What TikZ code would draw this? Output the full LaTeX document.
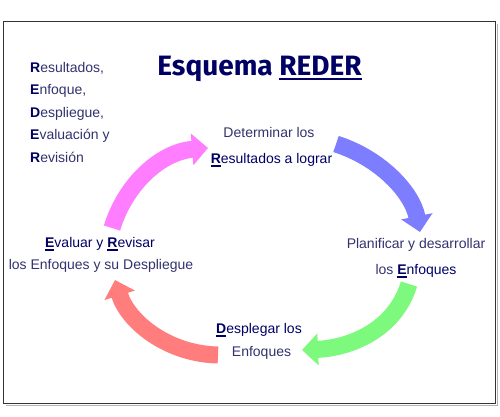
\documentclass[tikz,border=0pt]{standalone}
\usepackage{fontspec}
\setmainfont{Liberation Sans}
\newfontfamily\titlefont{Fira Sans}
\usetikzlibrary{arrows.meta}
\definecolor{txtc}{RGB}{50,50,110}
\definecolor{navyc}{RGB}{0,0,100}
\definecolor{ablue}{RGB}{125,125,255}
\definecolor{agreen}{RGB}{125,250,125}
\definecolor{ared}{RGB}{255,125,125}
\definecolor{amag}{RGB}{255,125,255}
\newcommand\ulb[1]{\setbox0\hbox{\color{navyc}\bfseries #1}\rlap{\color{navyc}\rule[-3.5pt]{\wd0}{1.6pt}}\box0}
\newcommand\blt[1]{{\color{navyc}\bfseries #1}}
\newcommand\ult[1]{\setbox0\hbox{#1}\rlap{\rule[-5pt]{\wd0}{2pt}}\box0}
\begin{document}
\begin{tikzpicture}[x=1pt,y=-1pt,
  lbl/.style={anchor=base, text=txtc, font=\fontsize{14}{16}\selectfont, inner sep=0pt},
  lbll/.style={lbl, anchor=base west},
  bigarrow/.style={line width=17pt, -{Triangle[width=31pt,length=16pt]}}]
\useasboundingbox (0,0) rectangle (500,416);
% frame
\draw[gray!60, line width=1.2pt] (6,405.5) -- (497.5,405.5) -- (497.5,24);
\draw[black!80, line width=0.9pt] (3,21) rectangle (495.5,403.5);
% title
\node[anchor=base, inner sep=0pt, text=navyc, font=\titlefont\bfseries\fontsize{28}{30}\selectfont] (title) at (259.5,75) {Esquema \ult{REDER}};
% left list
\node[lbll] (l1) at (30,72) {\blt{R}esultados,};
\node[lbll] (l2) at (30,94.5) {\blt{E}nfoque,};
\node[lbll] (l3) at (30,117) {\blt{D}espliegue,};
\node[lbll] (l4) at (30,139.5) {\blt{E}valuación y};
\node[lbll] (l5) at (30,162) {\blt{R}evisión};
% stage labels
\node[lbl] (d1) at (269,137) {Determinar los};
\node[lbl] (d2) at (271.5,163) {\ulb{R}esultados a lograr};
\node[lbl] (p1) at (416,248) {Planificar y desarrollar};
\node[lbl] (p2) at (416,274) {los \ulb{E}nfoques};
\node[lbl] (s1) at (259,333) {\ulb{D}esplegar los};
\node[lbl] (s2) at (261.5,356) {Enfoques};
\node[lbl] (e1) at (100,247) {\ulb{E}valuar y \ulb{R}evisar};
\node[lbl] (e2) at (101,269) {los Enfoques y su Despliegue};
% arrows
\coordinate (bt) at (336,144);
\coordinate (bh) at (420,232);
\coordinate (gt) at (409,284);
\coordinate (gh) at (302,350);
\coordinate (rt) at (218,355);
\coordinate (rh) at (115,280);
\coordinate (mt) at (112,228);
\coordinate (mh) at (208,148);
\draw[bigarrow, ablue] (bt) .. controls (380,158) and (412,192) .. (bh);
\draw[bigarrow, agreen] (gt) .. controls (395,330) and (350,348) .. (gh);
\draw[bigarrow, ared] (rt) .. controls (168,354) and (128,322) .. (rh);
\draw[bigarrow, amag] (mt) .. controls (125,185) and (160,152) .. (mh);
\end{tikzpicture}
\end{document}
